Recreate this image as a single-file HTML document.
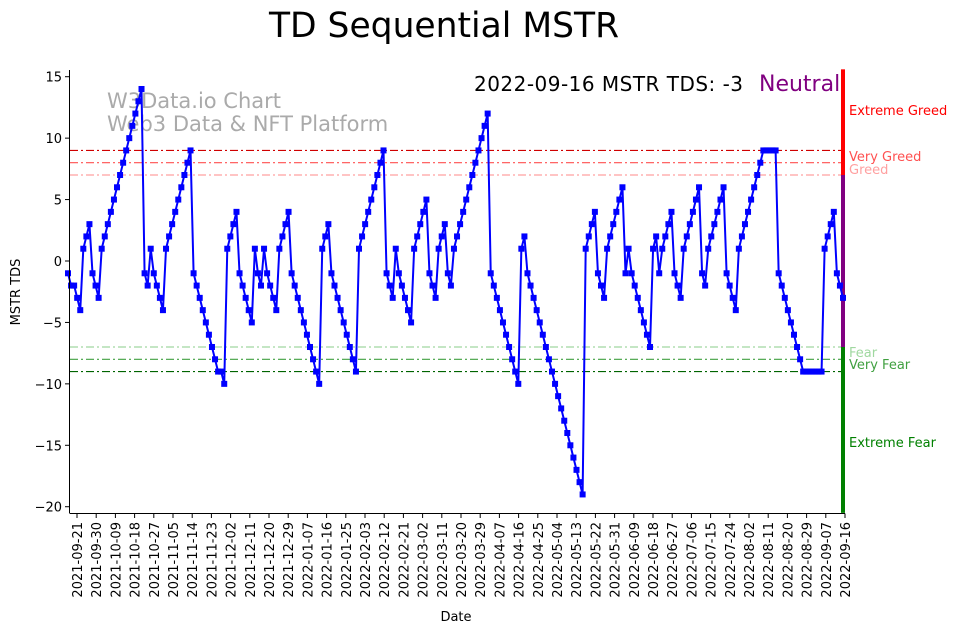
<!DOCTYPE html>
<html><head><meta charset="utf-8">
<style>
body{margin:0;background:#fff;}
svg{display:block;font-family:"DejaVu Sans","Liberation Sans",sans-serif;}
</style></head>
<body>
<svg id="chart" width="962" height="633" viewBox="0 0 962 633" xmlns="http://www.w3.org/2000/svg">
<rect width="962" height="633" fill="#fff"/>
<text x="444" y="37" font-size="34.5" text-anchor="middle">TD Sequential MSTR</text>
<text x="107" y="108" font-size="21" fill="#aaa">W3Data.io Chart</text>
<text x="107" y="131" font-size="21" fill="#aaa">Web3 Data &amp; NFT Platform</text>
<g id="grid"></g>
<g id="series"></g>
<g id="axes"></g>
<text x="474" y="91" font-size="20" textLength="269">2022-09-16 MSTR TDS: -3</text>
<text x="759" y="91" font-size="22" fill="#800080">Neutral</text>
<text x="456" y="621" font-size="13" text-anchor="middle">Date</text>
<text x="20" y="292" font-size="13" text-anchor="middle" transform="rotate(-90 20 292)">MSTR TDS</text>
</svg>
<script>
const tdsValues = [
-1,-2,-2,-3,-4,1,2,3,-1,-2,-3,1,2,3,4,5,6,7,8,9,10,11,12,13,14,-1,-2,1,-1,-2,-3,-4,1,2,3,4,5,6,7,8,9,-1,-2,-3,-4,
-5,-6,-7,-8,-9,-9,-10,1,2,3,4,-1,-2,-3,-4,-5,1,-1,-2,1,-1,-2,-3,-4,1,2,3,4,-1,-2,-3,-4,-5,-6,-7,-8,-9,-10,1,2,3,
-1,-2,-3,-4,-5,-6,-7,-8,-9,1,2,3,4,5,6,7,8,9,-1,-2,-3,1,-1,-2,-3,-4,-5,1,2,3,4,5,-1,-2,-3,1,2,3,-1,-2,1,2,3,4,5,6,7,8,9,10,11,12,
-1,-2,-3,-4,-5,-6,-7,-8,-9,-10,1,2,-1,-2,-3,-4,-5,-6,-7,-8,-9,-10,-11,-12,-13,-14,-15,-16,-17,-18,-19,1,2,3,4,
-1,-2,-3,1,2,3,4,5,6,-1,1,-1,-2,-3,-4,-5,-6,-7,1,2,-1,1,2,3,4,-1,-2,-3,1,2,3,4,5,6,-1,-2,1,2,3,4,5,6,
-1,-2,-3,-4,1,2,3,4,5,6,7,8,9,9,9,9,9,-1,-2,-3,-4,-5,-6,-7,-8,-9,-9,-9,-9,-9,-9,-9,1,2,3,4,-1,-2,-3
];
const yTicks = [15,10,5,0,-5,-10,-15,-20];
const xTickLabels = ["2021-09-21","2021-09-30","2021-10-09","2021-10-18","2021-10-27","2021-11-05","2021-11-14","2021-11-23","2021-12-02","2021-12-11","2021-12-20","2021-12-29","2022-01-07","2022-01-16","2022-01-25","2022-02-03","2022-02-12","2022-02-21","2022-03-02","2022-03-11","2022-03-20","2022-03-29","2022-04-07","2022-04-16","2022-04-25","2022-05-04","2022-05-13","2022-05-22","2022-05-31","2022-06-09","2022-06-18","2022-06-27","2022-07-06","2022-07-15","2022-07-24","2022-08-02","2022-08-11","2022-08-20","2022-08-29","2022-09-07","2022-09-16"];
const thresholds = [9,8,7,-7,-8,-9];
const thresholdColors = ["#d00000","#ff5050","#ffa0a0","#a0d8a0","#40a040","#006400"];

const NS="http://www.w3.org/2000/svg";
function yS(v){return 261 - v*12.286;}
function xIdx(i){return 68 + i*(843-68)/(tdsValues.length-1);}
function xTick(i){return 77 + i*(845-77)/(xTickLabels.length-1);}
function mk(tag,attrs,parent){const e=document.createElementNS(NS,tag);for(const k in attrs)e.setAttribute(k,attrs[k]);parent.appendChild(e);return e;}

const grid=document.getElementById('grid');
thresholds.forEach((t,i)=>{
  const l=mk('line',{x1:70,x2:843,y1:yS(t),y2:yS(t),stroke:thresholdColors[i],'stroke-width':1.2,'stroke-dasharray':'8,3,2,3'},grid);
  
  
});
const bars=[[15.6,7,"#ff0000","greed-zone-bar"],[7,-7,"#800080","neutral-zone-bar"],[-7,-20.5,"#008000","fear-zone-bar"]];
bars.forEach(b=>{
  const r=mk('rect',{x:841,y:yS(b[0]),width:4,height:yS(b[1])-yS(b[0]),fill:b[2]},grid);
  
  
});
const zoneLabels=[["Extreme Greed",115,"#ff0000"],["Very Greed",161,"#ff5050"],["Greed",174,"#ffa0a0"],["Fear",357,"#a0d8a0"],["Very Fear",369,"#40a040"],["Extreme Fear",447,"#008000"]];
zoneLabels.forEach(z=>{
  const t=mk('text',{x:849,y:z[1],'font-size':13,fill:z[2]},grid);
  t.textContent=z[0];
  
  
});

const series=document.getElementById('series');
let d='';
tdsValues.forEach((v,i)=>{d+=(i?'L':'M')+xIdx(i).toFixed(2)+','+yS(v).toFixed(2);});
const path=mk('path',{d:d,fill:'none',stroke:'#0000ff','stroke-width':2},series);


tdsValues.forEach((v,i)=>{
  const r=mk('rect',{x:xIdx(i)-3,y:yS(v)-3,width:6,height:6,fill:'#0000ff'},series);
  
  
});

const axes=document.getElementById('axes');
const ls=mk('line',{x1:69.5,x2:69.5,y1:70,y2:513,stroke:'#000','stroke-width':1},axes);


const bs=mk('line',{x1:69.5,x2:845,y1:513.5,y2:513.5,stroke:'#000','stroke-width':1},axes);


yTicks.forEach(t=>{
  const y=yS(t);
  const tl=mk('line',{x1:65,x2:69.5,y1:y,y2:y,stroke:'#000'},axes);
  
  
  const tx=mk('text',{x:62,y:y+5,'font-size':13,'text-anchor':'end'},axes);
  tx.textContent=String(t).replace('-','\u2212');
  
  
});
xTickLabels.forEach((lab,i)=>{
  const x=xTick(i);
  const tl=mk('line',{x1:x,x2:x,y1:513.5,y2:518,stroke:'#000'},axes);
  
  
  const tx=mk('text',{x:x+5,y:522,'font-size':13,'text-anchor':'end',transform:'rotate(-90 '+(x+5)+' 522)'},axes);
  tx.textContent=lab;
  
  
});
</script>
</body></html>
